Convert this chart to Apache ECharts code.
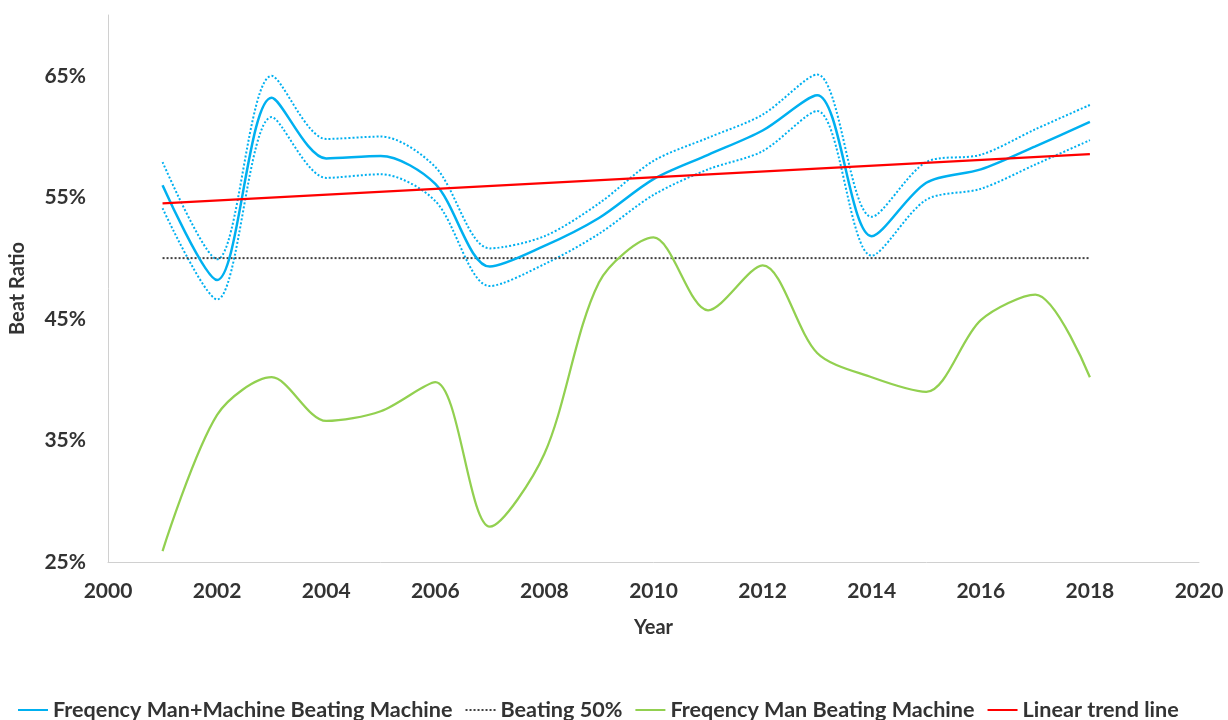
<!DOCTYPE html>
<html>
<head>
<meta charset="utf-8">
<script src="https://cdn.jsdelivr.net/npm/echarts@6/dist/echarts.min.js"></script>
<style>
  html, body { margin: 0; padding: 0; background: #fff; }
  #chart { width: 1228px; height: 720px; }
</style>
</head>
<body>
<div id="chart"></div>
<script>
// years on the x axis
var years = [2001, 2002, 2003, 2004, 2005, 2006, 2007, 2008, 2009,
             2010, 2011, 2012, 2013, 2014, 2015, 2016, 2017, 2018];

// frequency man+machine beating machine (%), with its dotted upper/lower band
var manMachine = [56.0, 48.2, 63.2, 58.2, 58.4, 56.1, 49.3, 51.0, 53.3,
                  56.5, 58.5, 60.5, 63.4, 51.8, 56.2, 57.3, 59.2, 61.2];
var manMachineUpper = [57.9, 49.9, 65.0, 59.8, 60.0, 57.5, 50.8, 51.8, 54.5,
                       58.0, 59.9, 61.8, 65.1, 53.4, 57.9, 58.5, 60.6, 62.6];
var manMachineLower = [54.1, 46.6, 61.6, 56.6, 56.9, 54.7, 47.7, 49.5, 52.0,
                       55.2, 57.3, 58.8, 62.1, 50.2, 54.8, 55.7, 57.7, 59.7];

// frequency man beating machine (%)
var manOnly = [25.9, 37.1, 40.2, 36.6, 37.4, 39.8, 27.9, 33.9, 48.0,
               51.7, 45.7, 49.4, 42.2, 40.2, 39.0, 44.9, 47.0, 40.2];

// 50% reference line and linear trend end points
var halfLine = [[2001, 50], [2018, 50]];
var trendLine = [[2001, 54.5], [2018, 58.55]];

var legendNames = ['Freqency Man+Machine Beating Machine', 'Beating 50%',
                   'Freqency Man Beating Machine', 'Linear trend line'];

function pairs(vals) {
  return years.map(function (y, i) { return [y, vals[i]]; });
}

var blue = '#00b0f0';
var font = 'Lato, "Open Sans", sans-serif';
var smoothness = 0.3;

var chart = echarts.init(document.getElementById('chart'));
chart.setOption({
  animation: false,
  textStyle: { fontFamily: font },
  grid: { left: 99, right: 29, top: 15, bottom: 158 },
  legend: {
    data: legendNames,
    left: 12,
    top: 694,
    itemWidth: 30,
    itemHeight: 14,
    itemGap: 12,
    itemStyle: { opacity: 0 },
    textStyle: { fontSize: 21.6, color: '#333', fontWeight: 'bold', fontFamily: font }
  },
  xAxis: {
    type: 'value',
    min: 2000,
    max: 2020,
    interval: 2,
    name: 'Year',
    nameLocation: 'middle',
    nameGap: 56,
    nameTextStyle: { fontSize: 20, fontWeight: 'bold', color: '#333' },
    axisLine: { lineStyle: { color: '#d0d0d0', width: 1 } },
    axisTick: { show: false },
    splitLine: { show: false },
    axisLabel: {
      margin: 19,
      fontSize: 21,
      fontWeight: 'bold',
      color: '#333',
      formatter: function (v) { return String(v); }
    }
  },
  yAxis: {
    type: 'value',
    min: 25,
    max: 70,
    interval: 5,
    name: 'Beat Ratio',
    nameLocation: 'middle',
    nameGap: 80,
    nameTextStyle: { fontSize: 20, fontWeight: 'bold', color: '#333' },
    axisLine: { show: true, lineStyle: { color: '#d0d0d0', width: 1 } },
    axisTick: { show: false },
    splitLine: { show: false },
    axisLabel: {
      margin: 22,
      fontSize: 21,
      fontWeight: 'bold',
      color: '#333',
      formatter: function (v) { return (v - 25) % 10 === 0 ? v + '%' : ''; }
    }
  },
  series: [
    {
      name: legendNames[0], type: 'line', smooth: smoothness, symbol: 'none',
      data: pairs(manMachine), z: 4,
      lineStyle: { color: blue, width: 2.5 }, itemStyle: { color: blue }
    },
    {
      name: 'upper', type: 'line', smooth: smoothness, symbol: 'none',
      data: pairs(manMachineUpper),
      lineStyle: { color: blue, width: 2, type: [2, 2] }
    },
    {
      name: 'lower', type: 'line', smooth: smoothness, symbol: 'none',
      data: pairs(manMachineLower),
      lineStyle: { color: blue, width: 2, type: [2, 2] }
    },
    {
      name: legendNames[1], type: 'line', symbol: 'none',
      data: halfLine,
      lineStyle: { color: '#404040', width: 2, type: [2, 2] }, itemStyle: { color: '#404040' }
    },
    {
      name: legendNames[2], type: 'line', smooth: smoothness, symbol: 'none',
      data: pairs(manOnly),
      lineStyle: { color: '#92d050', width: 2.25 }, itemStyle: { color: '#92d050' }
    },
    {
      name: legendNames[3], type: 'line', symbol: 'none',
      data: trendLine, z: 5,
      lineStyle: { color: '#ff0000', width: 2.25 }, itemStyle: { color: '#ff0000' }
    }
  ]
});
</script>
</body>
</html>
